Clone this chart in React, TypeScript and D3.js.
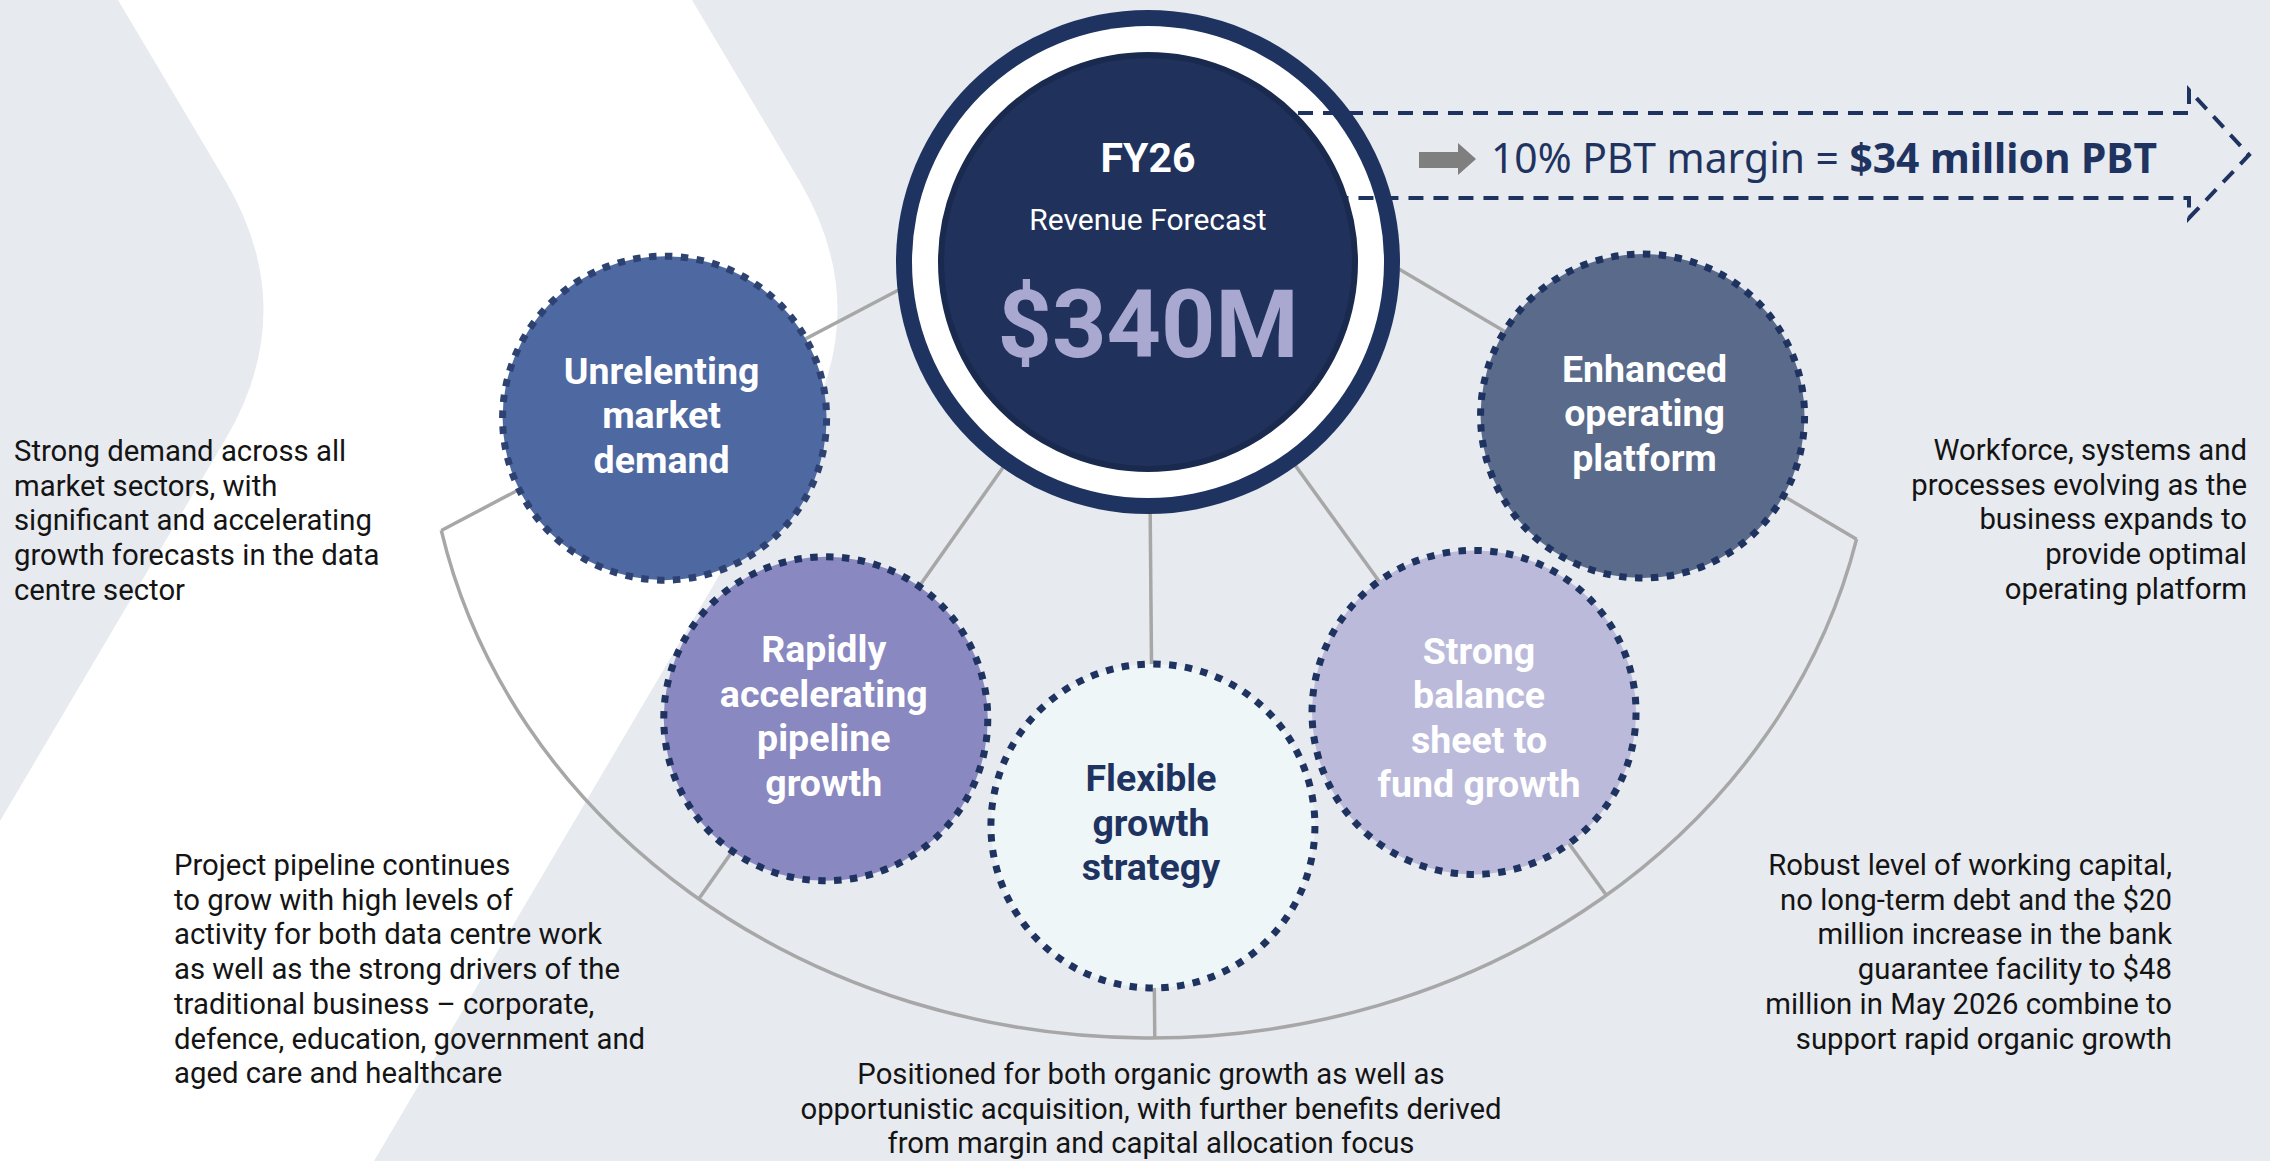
import * as d3 from 'd3';

const width = 2270;
const height = 1161;

// hub (centre circle)
const hubTitle = 'FY26';
const hubSubtitle = 'Revenue Forecast';
const hubValue = '$340M';

// margin arrow
const marginLead = '10% PBT margin = ';
const marginResult = '$34 million PBT';

// the five pillars, left to right round the hub
const pillarLines = [
  ['Unrelenting', 'market', 'demand'],
  ['Rapidly', 'accelerating', 'pipeline', 'growth'],
  ['Flexible', 'growth', 'strategy'],
  ['Strong', 'balance', 'sheet to', 'fund growth'],
  ['Enhanced', 'operating', 'platform'],
];
const pillarFill = ['#4e68a1', '#8a88c0', '#eef6f7', '#bbbadb', '#5a6a8b'];
const pillarInk = ['#ffffff', '#ffffff', '#1f3360', '#ffffff', '#ffffff'];
const pillarDots = ['#2e4272', '#1f3360', '#1f3360', '#1f3360', '#1f3360'];

// where each pillar sits round the hub: angle (deg) and distance
const pillarAngle = [162.1, 125.2, 89.5, 54.1, 17.3];
const pillarOrbit = [508, 559, 564, 556, 518];
// small label nudges inside the circles
const labelNudge: [number, number][] = [[-3, 0], [-2, 0], [-2, 0], [5, 8], [2, 0]];

// supporting notes
const noteDemand = [
  'Strong demand across all',
  'market sectors, with',
  'significant and accelerating',
  'growth forecasts in the data',
  'centre sector',
];
const notePipeline = [
  'Project pipeline continues',
  'to grow with high levels of',
  'activity for both data centre work',
  'as well as the strong drivers of the',
  'traditional business \u2013 corporate,',
  'defence, education, government and',
  'aged care and healthcare',
];
const noteStrategy = [
  'Positioned for both organic growth as well as',
  'opportunistic acquisition, with further benefits derived',
  'from margin and capital allocation focus',
];
const noteBalance = [
  'Robust level of working capital,',
  'no long-term debt and the $20',
  'million increase in the bank',
  'guarantee facility to $48',
  'million in May 2026 combine to',
  'support rapid organic growth',
];
const notePlatform = [
  'Workforce, systems and',
  'processes evolving as the',
  'business expands to',
  'provide optimal',
  'operating platform',
];

const navy = '#1f3360';
const grey = '#a7a7a7';
const bodyFont = 'Roboto, "Noto Sans", sans-serif';

export default function App() {
  const hub = { x: 1148, y: 262 };
  const pillarR = 162;

  const angle = d3.scaleOrdinal<number, number>().domain(d3.range(pillarLines.length)).range(pillarAngle);
  const rad = (deg: number) => (deg * Math.PI) / 180;

  const pillars = pillarLines.map((lines, i) => {
    const a = rad(angle(i));
    return {
      lines,
      a,
      x: hub.x + pillarOrbit[i] * Math.cos(a),
      y: hub.y + pillarOrbit[i] * Math.sin(a),
    };
  });

  // the bracket under the pillars is an elliptical arc
  const ell = { x: 1150, y: 400, rx: 724, ry: 638 };
  const ellPoint = (deg: number): [number, number] => [
    ell.x + ell.rx * Math.cos(rad(deg)),
    ell.y + ell.ry * Math.sin(rad(deg)),
  ];
  const arcLeft = ellPoint(168.2);
  const arcRight = ellPoint(12.6);
  const bracket = `M${arcLeft[0]},${arcLeft[1]} A${ell.rx},${ell.ry} 0 0 0 ${arcRight[0]},${arcRight[1]}`;

  // ray from hub centre to the bracket
  const toBracket = (a: number): [number, number] => {
    const dx = Math.cos(a);
    const dy = Math.sin(a);
    const ox = hub.x - ell.x;
    const oy = hub.y - ell.y;
    const A = (dx / ell.rx) ** 2 + (dy / ell.ry) ** 2;
    const B = 2 * ((ox * dx) / ell.rx ** 2 + (oy * dy) / ell.ry ** 2);
    const C = (ox / ell.rx) ** 2 + (oy / ell.ry) ** 2 - 1;
    const t = (-B + Math.sqrt(B * B - 4 * A * C)) / (2 * A);
    return [hub.x + t * dx, hub.y + t * dy];
  };

  const line = d3.line<[number, number]>();
  const hubRim = (deg: number, r = 251): [number, number] => [
    hub.x + r * Math.cos(rad(deg)),
    hub.y + r * Math.sin(rad(deg)),
  ];

  const spokes: [number, number][][] = [
    [arcLeft, hubRim(173.6)],
    [arcRight, hubRim(1.6)],
    ...pillars.slice(1, 4).map((p) => [[hub.x, hub.y], toBracket(p.a)] as [number, number][]),
  ];

  const circ = 2 * Math.PI * pillarR;
  const period = circ / 64;
  const dash = `${period * 0.47} ${period * 0.53}`;

  const labelSize = 37.5;
  const labelStep = 44.5;
  const noteSize = 29.3;
  const noteStep = 34.7;

  const notes = [
    { lines: noteDemand, x: 14, y: 461, anchor: 'start' },
    { lines: notePipeline, x: 174, y: 875, anchor: 'start' },
    { lines: noteStrategy, x: 1151, y: 1084, anchor: 'middle' },
    { lines: noteBalance, x: 2172, y: 875, anchor: 'end' },
    { lines: notePlatform, x: 2247, y: 460, anchor: 'end' },
  ];

  // background chevron band
  const band = d3.path();
  band.moveTo(118, 0);
  band.lineTo(692, 0);
  band.lineTo(799, 180);
  band.quadraticCurveTo(876, 310, 799, 440);
  band.lineTo(374, height);
  band.lineTo(0, height);
  band.lineTo(0, 821);
  band.lineTo(225, 440);
  band.quadraticCurveTo(302, 310, 225, 180);
  band.closePath();

  const arrowTop = 113;
  const arrowBottom = 198;
  const arrowEnd = 2189;
  const arrow = d3.path();
  arrow.moveTo(hub.x, arrowTop);
  arrow.lineTo(arrowEnd, arrowTop);
  arrow.lineTo(arrowEnd, 90);
  arrow.lineTo(2249, 155);
  arrow.lineTo(arrowEnd, 218);
  arrow.lineTo(arrowEnd, arrowBottom);
  arrow.lineTo(hub.x, arrowBottom);

  return (
    <svg
      width={width}
      height={height}
      style={{ position: 'absolute', left: 0, top: 0, display: 'block' }}
    >
      <rect width={width} height={height} fill="#e7eaef" />
      <path d={band.toString()} fill="#ffffff" />

      <path d={bracket} fill="none" stroke={grey} strokeWidth={3.5} />
      {spokes.map((s, i) => (
        <path key={i} d={line(s) ?? ''} fill="none" stroke={grey} strokeWidth={3.5} />
      ))}

      {pillars.map((p, i) => (
        <g key={i}>
          <circle
            cx={p.x}
            cy={p.y}
            r={pillarR}
            fill={pillarFill[i]}
            stroke={pillarDots[i]}
            strokeWidth={7}
            strokeDasharray={dash}
          />
          <text
            textAnchor="middle"
            fontFamily={bodyFont}
            fontWeight={700}
            fontSize={labelSize}
            fill={pillarInk[i]}
          >
            {p.lines.map((l, j) => (
              <tspan
                key={j}
                x={p.x + labelNudge[i][0]}
                y={p.y + 10 + labelNudge[i][1] + (j - (p.lines.length - 1) / 2) * labelStep}
              >
                {l}
              </tspan>
            ))}
          </text>
        </g>
      ))}

      {/* hub */}
      <circle cx={hub.x} cy={hub.y} r={252} fill={navy} />
      <circle cx={hub.x} cy={hub.y} r={236} fill="#ffffff" />
      <path d={arrow.toString()} fill="none" stroke={navy} strokeWidth={4} strokeDasharray="15 10" />
      <circle cx={hub.x} cy={hub.y} r={207} fill="#20325c" stroke="#1a2a4f" strokeWidth={6} />
      <text x={hub.x} y={172} textAnchor="middle" fontFamily={bodyFont} fontWeight={700} fontSize={41} fill="#ffffff">
        {hubTitle}
      </text>
      <text x={hub.x} y={230} textAnchor="middle" fontFamily={bodyFont} fontSize={30} fill="#ffffff">
        {hubSubtitle}
      </text>
      <text x={hub.x} y={357} textAnchor="middle" fontFamily={bodyFont} fontWeight={700} fontSize={95} fill="#a9a8d0">
        {hubValue}
      </text>

      {/* margin call-out */}
      <polygon
        points="1419,152 1458,152 1458,143 1476,159 1458,175 1458,168 1419,168"
        fill="#7f7f7f"
      />
      <text
        x={1491}
        y={173}
        fontFamily='"Noto Sans", sans-serif'
        fontSize={41}
        fill={navy}
        textLength={666}
        lengthAdjust="spacingAndGlyphs"
      >
        <tspan>{marginLead}</tspan>
        <tspan fontWeight={700}>{marginResult}</tspan>
      </text>

      {notes.map((n, i) => (
        <text
          key={i}
          textAnchor={n.anchor as 'start' | 'middle' | 'end'}
          fontFamily={bodyFont}
          fontSize={noteSize}
          fill="#141414"
        >
          {n.lines.map((l, j) => (
            <tspan key={j} x={n.x} y={n.y + j * noteStep}>
              {l}
            </tspan>
          ))}
        </text>
      ))}
    </svg>
  );
}
